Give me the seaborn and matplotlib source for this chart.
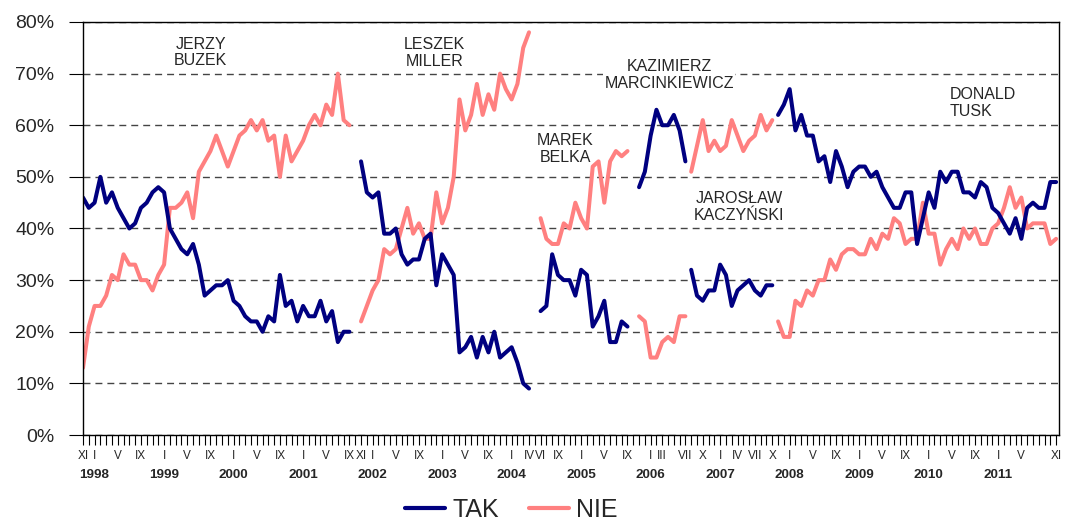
import numpy as np
import pandas as pd
import matplotlib
matplotlib.use('Agg')
import matplotlib.pyplot as plt
import seaborn as sns
from matplotlib.ticker import FixedLocator

# monthly poll results (%), one block per government
buzek_tak = [46, 44, 45, 50, 45, 47, 44, 42, 40, 41, 44, 45, 47, 48, 47, 40, 38, 36, 35, 37,
             33, 27, 28, 29, 29, 30, 26, 25, 23, 22, 22, 20, 23, 22, 31, 25, 26, 22, 25, 23,
             23, 26, 22, 24, 18, 20, 20]
buzek_nie = [13, 21, 25, 25, 27, 31, 30, 35, 33, 33, 30, 30, 28, 31, 33, 44, 44, 45, 47, 42,
             51, 53, 55, 58, 55, 52, 55, 58, 59, 61, 59, 61, 57, 58, 50, 58, 53, 55, 57, 60,
             62, 60, 64, 62, 70, 61, 60]
miller_tak = [53, 47, 46, 47, 39, 39, 40, 35, 33, 34, 34, 38, 39, 29, 35, 33, 31, 16, 17, 19,
              15, 19, 16, 20, 15, 16, 17, 14, 10, 9]
miller_nie = [22, 25, 28, 30, 36, 35, 36, 40, 44, 39, 41, 38, 38, 47, 41, 44, 50, 65, 59, 62,
              68, 62, 66, 63, 70, 67, 65, 68, 75, 78]
belka_tak = [24, 25, 35, 31, 30, 30, 27, 32, 31, 21, 23, 26, 18, 18, 22, 21]
belka_nie = [42, 38, 37, 37, 41, 40, 45, 42, 40, 52, 53, 45, 53, 55, 54, 55]
marc_tak = [48, 51, 58, 63, 60, 60, 62, 59, 53]
marc_nie = [23, 22, 15, 15, 18, 19, 18, 23, 23]
kacz_tak = [32, 27, 26, 28, 28, 33, 31, 25, 28, 29, 30, 28, 27, 29, 29]
kacz_nie = [51, 56, 61, 55, 57, 55, 56, 61, 58, 55, 57, 58, 62, 59, 61]
tusk_tak = [62, 64, 67, 59, 62, 58, 58, 53, 54, 49, 55, 52, 48, 51, 52, 52, 50, 51, 48, 46,
            44, 44, 47, 47, 37, 42, 47, 44, 51, 49, 51, 51, 47, 47, 46, 49, 48, 44, 43, 41,
            39, 42, 38, 44, 45, 44, 44, 49, 49]
tusk_nie = [22, 19, 19, 26, 25, 28, 27, 30, 30, 34, 32, 35, 36, 36, 35, 35, 38, 36, 39, 38,
            42, 41, 37, 38, 38, 45, 39, 39, 33, 36, 38, 36, 40, 38, 40, 37, 37, 40, 41, 44,
            48, 44, 46, 40, 41, 41, 41, 37, 38]

governments = ['Buzek', 'Miller', 'Belka', 'Marcinkiewicz', 'Kaczynski', 'Tusk']
gov_start = [(1997, 11), (2001, 11), (2004, 6), (2005, 11), (2006, 8), (2007, 11)]
gov_tak = [buzek_tak, miller_tak, belka_tak, marc_tak, kacz_tak, tusk_tak]
gov_nie = [buzek_nie, miller_nie, belka_nie, marc_nie, kacz_nie, tusk_nie]

gov_names = ['JERZY\nBUZEK', 'LESZEK\nMILLER', 'MAREK\nBELKA',
             'KAZIMIERZ\nMARCINKIEWICZ', 'JAROSŁAW\nKACZYŃSKI', 'DONALD\nTUSK']

# month labels shown on the x axis
tick_months = [(1997, 11, 'XI'),
               (1998, 1, 'I'), (1998, 5, 'V'), (1998, 9, 'IX'),
               (1999, 1, 'I'), (1999, 5, 'V'), (1999, 9, 'IX'),
               (2000, 1, 'I'), (2000, 5, 'V'), (2000, 9, 'IX'),
               (2001, 1, 'I'), (2001, 5, 'V'), (2001, 9, 'IX'), (2001, 11, 'XI'),
               (2002, 1, 'I'), (2002, 5, 'V'), (2002, 9, 'IX'),
               (2003, 1, 'I'), (2003, 5, 'V'), (2003, 9, 'IX'),
               (2004, 1, 'I'), (2004, 4, 'IV'), (2004, 6, 'VI'), (2004, 9, 'IX'),
               (2005, 1, 'I'), (2005, 5, 'V'), (2005, 9, 'IX'),
               (2006, 1, 'I'), (2006, 3, 'III'), (2006, 7, 'VII'), (2006, 10, 'X'),
               (2007, 1, 'I'), (2007, 4, 'IV'), (2007, 7, 'VII'), (2007, 10, 'X'),
               (2008, 1, 'I'), (2008, 5, 'V'), (2008, 9, 'IX'),
               (2009, 1, 'I'), (2009, 5, 'V'), (2009, 9, 'IX'),
               (2010, 1, 'I'), (2010, 5, 'V'), (2010, 9, 'IX'),
               (2011, 1, 'I'), (2011, 5, 'V'), (2011, 11, 'XI')]
years = list(range(1998, 2012))


def month_index(year, month):
    return (year - 1997) * 12 + (month - 11)


rows = []
for gov, (y0, mo0), t, n in zip(governments, gov_start, gov_tak, gov_nie):
    m0 = month_index(y0, mo0)
    for i, v in enumerate(t):
        rows.append((gov, m0 + i, 'TAK', v))
    for i, v in enumerate(n):
        rows.append((gov, m0 + i, 'NIE', v))
df = pd.DataFrame(rows, columns=['gov', 'm', 'series', 'val'])

sns.set_style('white')
plt.rcParams['font.family'] = ['Liberation Sans', 'DejaVu Sans']

fig = plt.figure(figsize=(10.65, 5.21), dpi=100)
ax = fig.add_axes([83 / 1065, 1 - 435 / 521, (1059 - 83) / 1065, (435 - 22) / 521])

sns.lineplot(data=df, x='m', y='val', hue='series', units='gov', estimator=None,
             hue_order=['NIE', 'TAK'], palette={'TAK': '#000080', 'NIE': '#FF8080'},
             linewidth=2.9, ax=ax, legend=True)

ax.set_xlim(0, 168.5)
ax.set_ylim(0, 80)
ax.set_xlabel('')
ax.set_ylabel('')

ax.set_yticks(range(0, 81, 10))
ax.set_yticklabels([f'{v}%' for v in range(0, 81, 10)], fontsize=14)
ax.tick_params(axis='y', length=10, width=0.8, pad=10.5, color='black', left=True)

ax.set_xticks([month_index(y, mo) for y, mo, _ in tick_months])
ax.set_xticklabels([lab for _, _, lab in tick_months], fontsize=8.5)
ax.xaxis.set_minor_locator(FixedLocator(range(0, 169)))
ax.tick_params(axis='x', which='both', length=7, width=0.8, pad=3.5,
               color='black', direction='out', bottom=True)
for y in years:
    ax.text(month_index(y, 1), -0.097, str(y), transform=ax.get_xaxis_transform(),
            ha='center', va='center', fontsize=9.7, fontweight='bold')

ax.yaxis.grid(True, color='#444444', linestyle=(0, (5, 3.6)), linewidth=1)
ax.xaxis.grid(False)
ax.set_axisbelow(True)
for s in ax.spines.values():
    s.set_color('black')
    s.set_linewidth(1)

# government names (the Marcinkiewicz box is filled and hides the gridline)
name_pos = [(20.3, 74.1, 'center'), (60.7, 74.0, 'center'), (83.3, 55.4, 'center'),
            (101.2, 69.8, 'center'), (113.3, 44.1, 'center'), (149.7, 64.3, 'left')]
for name, (x, y, ha) in zip(gov_names, name_pos):
    box = None
    if name.startswith('KAZIMIERZ'):
        box = dict(facecolor='white', edgecolor='none', pad=1)
    ax.text(x, y, name, ha=ha, va='center', multialignment=ha, fontsize=11.5,
            linespacing=1.15, bbox=box, zorder=4)

handles, labels = ax.get_legend_handles_labels()
ax.get_legend().remove()
leg = fig.legend(handles[::-1], labels[::-1], loc='center', bbox_to_anchor=(0.48, 0.021),
                 ncol=2, frameon=False, fontsize=18, handlelength=1.6,
                 handletextpad=0.3, columnspacing=1.2)
for h in leg.get_lines():
    h.set_linewidth(3)

fig.savefig('out.png', dpi=100)
